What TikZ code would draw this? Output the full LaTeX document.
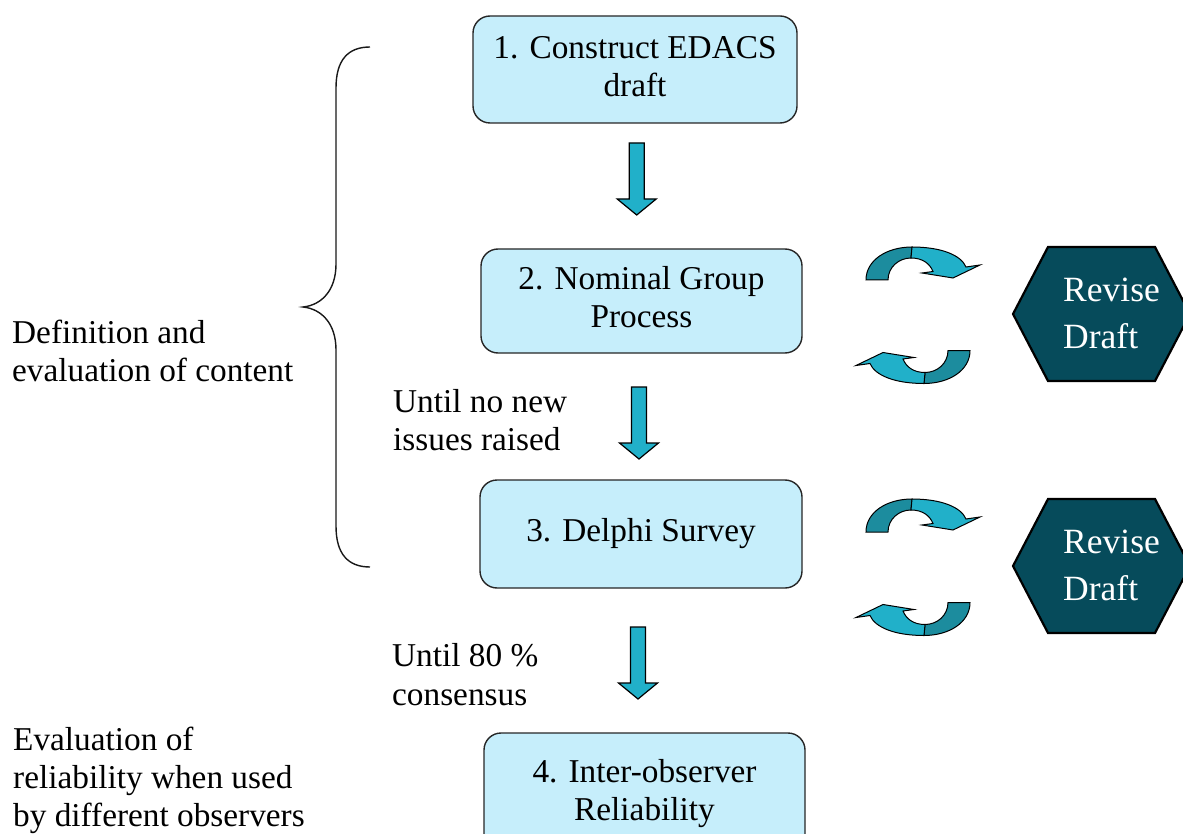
\documentclass[tikz,border=0pt]{standalone}
\usepackage{fontspec}
\setmainfont{LiberationSerif}[Extension=.ttf, UprightFont=*-Regular,
  BoldFont=*-Bold, ItalicFont=*-Italic, BoldItalicFont=*-BoldItalic]
\definecolor{boxfill}{HTML}{C6EEFB}
\definecolor{arrowlight}{HTML}{21B0C9}
\definecolor{arrowdark}{HTML}{1C8C9E}
\definecolor{hexfill}{HTML}{064B5B}
\newcommand\diagfont{\fontsize{33.3}{38.3}\selectfont}
\newcommand\hexfont{\fontsize{35.5}{47}\selectfont}
\tikzset{
  stepbox/.style={draw=black!85, line width=1.4pt, fill=boxfill,
    rounded corners=17pt, inner sep=0pt, align=center, font=\diagfont},
  note/.style={inner sep=0pt, anchor=north west, align=left, font=\diagfont},
  hexshape/.style={draw=black, line width=2.2pt, fill=hexfill, line join=miter},
  hextext/.style={inner sep=0pt, anchor=north west, align=left,
    font=\hexfont, text=white},
  arrowedge/.style={draw=black, line width=1.2pt, line join=miter},
  bracestyle/.style={draw=black!90, line width=1.4pt},
  pics/dnarrow/.style={code={
    \path[arrowedge, fill=arrowlight]
      (-7.5,0) -- (7.5,0) -- (7.5,56) -- (19.5,56) -- (0,72)
      -- (-19.5,56) -- (-7.5,56) -- cycle;
  }},
  pics/turnarrow/.style={code={
    % back face of the band (tail up to the crest)
    \path[arrowedge, line width=1pt, fill=arrowdark]
      (-57,16) .. controls (-57,-4) and (-36,-17) .. (-11,-17)
      -- (-12,-6) .. controls (-24,-6) and (-35,3) .. (-35,16) -- cycle;
    % front face with the flat head
    \path[arrowedge, line width=1pt, fill=arrowlight]
      (-11,-17) .. controls (18,-17) and (38,-9) .. (43,3)
      -- (57,1) -- (30,14) -- (-1,9) -- (10,7.5)
      .. controls (7,0) and (0,-6) .. (-12,-6) -- cycle;
  }}
}
\begin{document}
\begin{tikzpicture}[x=1pt,y=-1pt]
\useasboundingbox (0,0) rectangle (1183,834);
\clip (0,0) rectangle (1183,834);

% process steps
\node[stepbox, minimum width=324, minimum height=107] (b1) at (635,69.5)
  {\strut 1. Construct EDACS\\\strut draft};
\node[stepbox, minimum width=321, minimum height=104] (b2) at (641.5,301)
  {\strut 2. Nominal Group\\\strut Process};
\node[stepbox, minimum width=322, minimum height=108] (b3) at (641,534)
  {\strut 3. Delphi Survey};
\node[stepbox, minimum width=321, minimum height=122] (b4) at (644.5,794)
  {\strut 4. Inter-observer\\\strut Reliability};

% block arrows between the steps
\pic at (636.7,143) {dnarrow};
\pic at (639,387) {dnarrow};
\pic at (638,627) {dnarrow};

% stopping criteria
\node[note] (untila) at (393,385.5) {\strut Until no new\\\strut issues raised};
\node[note] (untilb) at (392,639.9) {\strut Until 80 \%\\\strut consensus};

% phase labels
\node[note] (defn) at (12,316.5) {\strut Definition and\\\strut evaluation of content};
\node[note] (evalrel) at (13,723.2)
  {\strut Evaluation of\\\strut reliability when used\\\strut by different observers};

% brace grouping steps 1 to 3
\draw[bracestyle] (370,47) .. controls (348,47) and (336,60) .. (336,88)
  -- (336,264) .. controls (336,290) and (322,305) .. (303,307)
  .. controls (322,309) and (336,324) .. (336,350)
  -- (336,526) .. controls (336,554) and (348,567) .. (370,567);

% revision loops
\path[hexshape] (1013,314) -- (1048,247) -- (1155,247) -- (1190,314)
  -- (1155,381) -- (1048,381) -- cycle;
\node[hextext] (rev1) at (1063,268.8) {\strut Revise\\\strut Draft};
\pic at (923,264) {turnarrow};
\pic[rotate=180] at (913,366.5) {turnarrow};

\path[hexshape] (1013,566) -- (1048,499) -- (1155,499) -- (1190,566)
  -- (1155,633) -- (1048,633) -- cycle;
\node[hextext] (rev2) at (1063,520.8) {\strut Revise\\\strut Draft};
\pic at (923,516) {turnarrow};
\pic[rotate=180] at (913,618.5) {turnarrow};
\end{tikzpicture}
\end{document}
